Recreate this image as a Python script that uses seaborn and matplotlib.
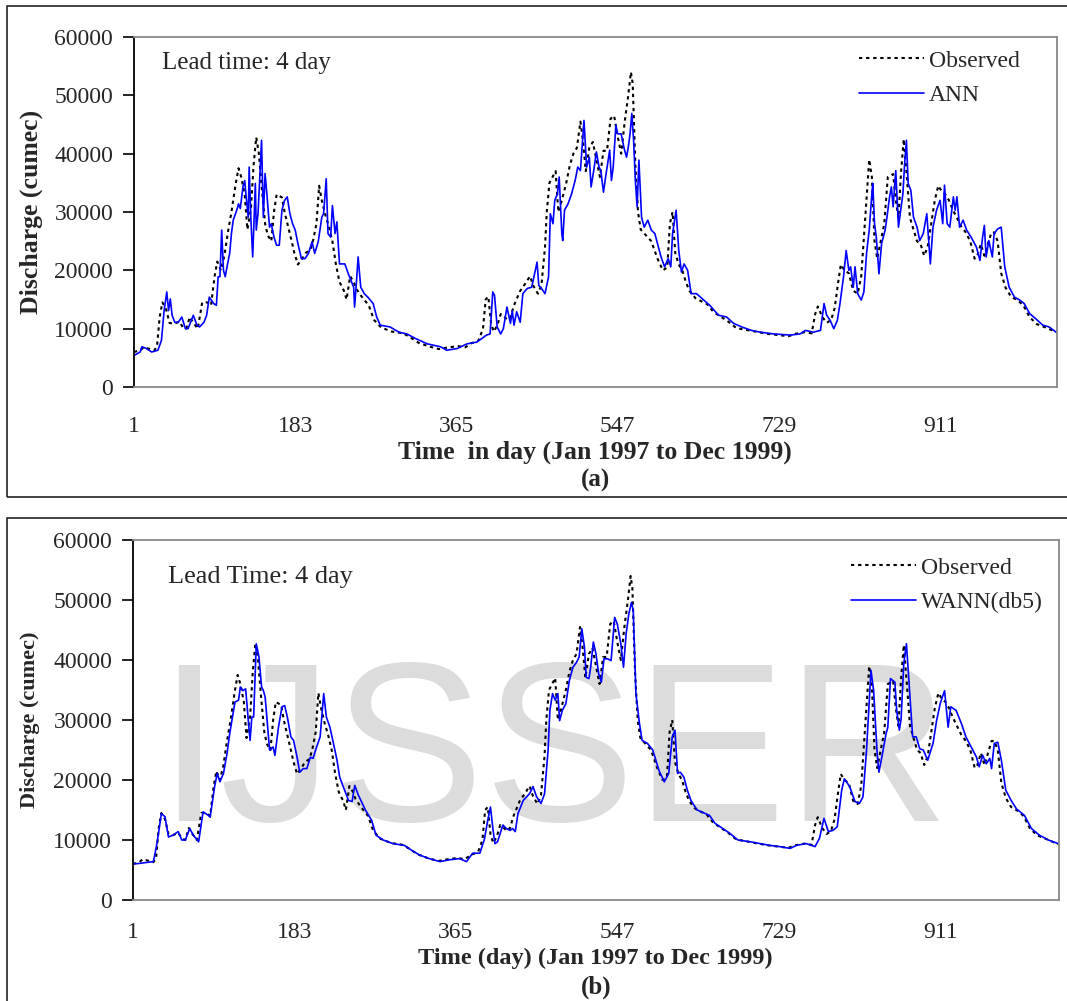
import numpy as np
import pandas as pd
import matplotlib
matplotlib.use("Agg")
import matplotlib.pyplot as plt
import seaborn as sns
from matplotlib.patches import Rectangle

sns.set_theme(style="white")
plt.rcParams["font.family"] = ["Liberation Serif", "DejaVu Serif"]

# ---------------- data ----------------
obs_days = [1, 8, 12, 24, 27, 30, 33, 37, 41, 46, 52, 56, 60, 64, 68, 73, 78, 84, 88, 92, 95, 99, 103, 107,
            111, 116, 119, 122, 126, 129, 133, 136, 139, 142, 145, 149, 152, 156, 159, 162, 168, 171, 175,
            179, 182, 186, 190, 195, 200, 203, 207, 210, 213, 217, 221, 225, 229, 233, 238, 241, 245, 249,
            252, 258, 266, 272, 280, 292, 305, 313, 322, 333, 345, 356, 367, 375, 382, 390, 395, 398, 401,
            404, 407, 411, 415, 419, 423, 426, 430, 437, 444, 448, 452, 457, 461, 465, 467, 470, 477, 480,
            484, 489, 493, 497, 501, 505, 508, 511, 515, 519, 523, 527, 531, 535, 539, 543, 547, 551, 555,
            559, 562, 564, 567, 570, 573, 579, 585, 592, 598, 603, 606, 609, 612, 616, 620, 624, 628, 635,
            648, 655, 664, 672, 681, 695, 706, 717, 728, 740, 747, 758, 766, 770, 773, 778, 783, 788, 792,
            796, 799, 803, 808, 813, 818, 822, 827, 831, 834, 837, 840, 844, 848, 852, 858, 861, 864, 867,
            870, 874, 877, 881, 885, 889, 893, 897, 901, 905, 909, 913, 917, 921, 925, 930, 935, 940, 945,
            950, 953, 957, 961, 965, 969, 972, 976, 980, 985, 991, 999, 1005, 1012, 1020, 1030, 1044]
obs_vals = [6000, 6300, 6800, 6300, 7000, 12000, 14500, 13500, 11000, 10800, 11200, 10300, 10000, 12000,
            11000, 10000, 14500, 14500, 14000, 19000, 21500, 20000, 22500, 26500, 30000, 35000, 37500,
            36000, 33000, 27000, 30500, 38000, 42800, 40000, 34500, 28000, 26000, 25000, 30000, 33000,
            32500, 30000, 27500, 25000, 23000, 21000, 21800, 23000, 23500, 25000, 28000, 34500, 32000,
            29500, 27500, 25000, 21000, 18000, 16500, 15000, 19000, 18000, 16800, 15500, 14000, 11500,
            10200, 9500, 9200, 8500, 7600, 7000, 6500, 6800, 7000, 6800, 7500, 8000, 10000, 15000, 15500,
            11000, 9500, 10500, 12500, 12000, 11500, 12000, 14000, 16500, 18000, 19000, 17300, 16000,
            17500, 24000, 30000, 35000, 37000, 30000, 32000, 35000, 38000, 40000, 41000, 45500, 42000,
            37000, 41000, 42000, 39000, 36000, 40500, 40500, 46000, 46500, 43000, 40000, 45500, 50000,
            54000, 52000, 38000, 30000, 27000, 26000, 25000, 22000, 20000, 20500, 28000, 30000, 23000,
            21000, 20000, 18000, 16500, 15200, 14200, 12900, 12000, 11200, 10100, 9700, 9400, 9100, 8900,
            8700, 9100, 9400, 9200, 12500, 13800, 12000, 11000, 11500, 13500, 18000, 21000, 20000, 19500,
            16500, 16000, 19000, 30000, 39000, 36000, 25000, 22000, 25000, 28000, 36000, 36500, 32000,
            29000, 37000, 42500, 35000, 29000, 27000, 25000, 24500, 22500, 24000, 28000, 32000, 34500,
            33500, 33000, 32000, 30500, 29000, 27500, 26500, 25000, 22000, 22500, 24500, 22500, 24500,
            26500, 26500, 25000, 19500, 17000, 15500, 14800, 14000, 12000, 10800, 10200, 9300]

ann_days = [1, 8, 10, 15, 21, 28, 32, 35, 38, 40, 42, 44, 47, 51, 55, 59, 62, 68, 72, 75, 80, 83, 86, 91,
            94, 96, 98, 100, 102, 104, 106, 109, 111, 113, 117, 119, 121, 124, 126, 128, 130, 131, 133,
            135, 138, 139, 141, 144, 145, 147, 149, 151, 154, 156, 159, 162, 165, 168, 170, 171, 174, 177,
            180, 183, 186, 190, 194, 198, 202, 205, 209, 213, 215, 218, 220, 223, 225, 228, 230, 233, 239,
            243, 249, 250, 252, 254, 257, 261, 265, 271, 275, 279, 290, 300, 309, 319, 332, 347, 354, 366,
            377, 388, 399, 403, 406, 408, 411, 415, 418, 422, 426, 428, 430, 433, 437, 440, 445, 450, 456,
            458, 461, 465, 469, 471, 474, 476, 479, 481, 484, 485, 487, 491, 495, 499, 502, 505, 509, 512,
            515, 517, 520, 523, 526, 528, 531, 534, 538, 540, 542, 545, 547, 551, 554, 557, 559, 561, 563,
            565, 567, 569, 571, 574, 577, 581, 585, 589, 592, 596, 600, 604, 607, 609, 613, 616, 619, 622,
            626, 630, 636, 651, 661, 670, 678, 687, 698, 708, 723, 742, 753, 759, 768, 776, 780, 783, 787,
            791, 795, 798, 802, 805, 808, 810, 813, 815, 818, 822, 825, 828, 831, 834, 835, 837, 839, 842,
            845, 849, 851, 854, 856, 858, 861, 864, 866, 869, 871, 873, 875, 878, 881, 885, 888, 892, 896,
            900, 903, 907, 911, 914, 916, 919, 922, 926, 928, 930, 933, 937, 941, 946, 952, 956, 959, 961,
            963, 966, 970, 972, 976, 980, 984, 989, 995, 1001, 1006, 1012, 1019, 1027, 1034, 1042]
ann_vals = [5400, 6000, 6900, 6600, 6000, 6300, 8000, 13100, 16300, 13100, 15100, 12300, 11100, 11100,
            12000, 10000, 10000, 12300, 10600, 10300, 11100, 12300, 15400, 14300, 14000, 18900, 18900,
            26900, 20000, 18900, 20600, 22900, 26300, 28600, 30300, 31400, 30600, 34300, 35400, 32000,
            29100, 37700, 28600, 22300, 34900, 26900, 29700, 39400, 42300, 29100, 36600, 33100, 27400,
            28000, 25700, 24300, 24300, 30300, 31400, 32000, 32600, 29700, 28000, 26900, 24600, 22000,
            22000, 22900, 24900, 22900, 24900, 29100, 29700, 35700, 26300, 25700, 31100, 26300, 28300,
            21100, 21100, 19400, 17100, 13700, 17700, 22300, 17100, 16000, 15400, 14300, 12000, 10600,
            10300, 9400, 9100, 8300, 7400, 6900, 6300, 6600, 7400, 7700, 8900, 9100, 16300, 15700, 10300,
            9100, 10000, 13700, 10900, 13100, 10600, 12900, 11100, 16000, 16900, 17100, 21400, 17400,
            16900, 16000, 18900, 29700, 28000, 32000, 33100, 36000, 26300, 25100, 30300, 31400, 33100,
            35400, 37700, 37100, 45700, 37700, 39400, 34300, 37100, 40300, 37700, 37100, 33400, 36600,
            40600, 35400, 37700, 44900, 43400, 43400, 41100, 39400, 41100, 43400, 46900, 42300, 35400,
            30900, 38900, 29100, 27400, 28600, 26900, 26300, 24600, 22300, 20600, 22000, 20600, 26300,
            30300, 23400, 19700, 21100, 20000, 16000, 16000, 14000, 12300, 12000, 10900, 10300, 9700,
            9400, 9100, 8900, 9100, 9700, 9400, 9700, 14300, 12300, 11400, 10000, 11400, 14300, 18900,
            23400, 20000, 20600, 17100, 20600, 16000, 14900, 16300, 22900, 26900, 33100, 34900, 28000,
            25700, 19400, 24600, 26900, 29100, 32600, 34300, 30900, 37100, 27400, 29700, 33100, 38300,
            42300, 34900, 33700, 29100, 27400, 25100, 26300, 29700, 21100, 27400, 30300, 32000, 28000,
            34600, 28000, 27400, 32600, 30300, 32600, 27400, 28600, 26900, 25700, 24000, 21700, 25700,
            27700, 22300, 25100, 22300, 26300, 27100, 27400, 20600, 17100, 15400, 14900, 14300, 12600,
            11700, 10600, 10300, 9400]

wann_days = [1, 8, 24, 28, 33, 37, 41, 46, 52, 56, 60, 65, 69, 75, 80, 86, 88, 93, 96, 99, 103, 107, 110,
             116, 120, 122, 125, 128, 131, 133, 135, 137, 140, 143, 146, 148, 150, 154, 155, 159, 161, 165,
             169, 172, 175, 179, 182, 186, 189, 193, 197, 201, 204, 208, 212, 216, 219, 223, 227, 231, 234,
             238, 244, 248, 251, 255, 263, 270, 275, 283, 294, 307, 315, 324, 335, 347, 358, 369, 377, 384,
             392, 397, 401, 404, 407, 409, 412, 418, 422, 426, 429, 432, 435, 441, 448, 452, 456, 461, 465,
             469, 471, 474, 477, 480, 482, 485, 489, 493, 497, 501, 504, 507, 510, 512, 515, 517, 520, 523,
             526, 529, 532, 536, 540, 544, 547, 551, 554, 557, 560, 563, 565, 568, 572, 575, 581, 587, 594,
             600, 605, 609, 612, 615, 618, 622, 626, 630, 637, 651, 657, 666, 674, 683, 697, 708, 719, 730,
             742, 749, 760, 770, 775, 780, 785, 790, 795, 800, 803, 809, 815, 820, 824, 828, 833, 836, 840,
             842, 846, 850, 852, 855, 860, 862, 865, 867, 870, 873, 877, 880, 884, 888, 892, 897, 903, 907,
             911, 916, 920, 923, 929, 935, 940, 946, 952, 955, 959, 963, 967, 969, 972, 976, 980, 985, 991,
             997, 1006, 1014, 1023, 1033, 1044]
wann_vals = [6000, 6100, 6400, 9400, 14400, 13900, 10500, 10800, 11400, 10000, 10000, 11900, 10800, 9700,
             14700, 14100, 13800, 18900, 21100, 19700, 21100, 24400, 27700, 33000, 33300, 35500, 34900,
             35200, 29900, 26600, 30500, 30500, 42700, 40500, 35500, 34900, 33800, 26600, 25000, 25500,
             24100, 28800, 32200, 32400, 30500, 27200, 26600, 23800, 21300, 21900, 21900, 23800, 23600,
             25500, 27200, 34400, 30500, 28800, 26100, 23300, 20500, 18900, 16600, 16400, 19100, 17500,
             15000, 13300, 10800, 10000, 9400, 9100, 8300, 7500, 6900, 6400, 6700, 6900, 6400, 7800, 7800,
             10000, 13300, 15500, 11600, 9400, 9700, 12500, 11900, 11600, 11900, 11400, 14400, 16600,
             17700, 18900, 17200, 16100, 17700, 25000, 31600, 34400, 33300, 34400, 29900, 31600, 32700,
             36600, 38800, 39600, 40500, 45200, 42100, 37100, 36900, 38800, 43000, 41000, 37700, 36300,
             40200, 40200, 39900, 47100, 46000, 42700, 38800, 44400, 47700, 49600, 48200, 34400, 29400,
             26600, 26100, 25000, 21600, 19700, 21100, 27200, 28300, 21100, 21300, 20500, 18300, 16600,
             15000, 14100, 12800, 11900, 11100, 10000, 9700, 9400, 9100, 8900, 8600, 9100, 9400, 8900,
             10300, 13600, 11400, 11600, 12200, 18300, 20200, 18900, 16400, 16100, 17200, 25000, 38300,
             34900, 24400, 21300, 24400, 27700, 28800, 36900, 36300, 31600, 28300, 30200, 39400, 42700,
             33800, 27200, 27200, 25200, 25000, 23300, 26100, 29900, 32700, 34900, 28800, 32200, 31600,
             29400, 27200, 25500, 23800, 22200, 24100, 22700, 23600, 21900, 26100, 26300, 23300, 18300,
             16600, 15200, 14100, 11900, 10800, 10000, 9400]

x_ticks = [1, 183, 365, 547, 729, 911]
y_ticks = [0, 10000, 20000, 30000, 40000, 50000, 60000]

obs_df = pd.DataFrame({"day": obs_days, "q": obs_vals})
ann_df = pd.DataFrame({"day": ann_days, "q": ann_vals})
wann_df = pd.DataFrame({"day": wann_days, "q": wann_vals})

# ---------------- figure ----------------
W, H = 1067, 1001
fig = plt.figure(figsize=(W / 100, H / 100), dpi=100)


def fx(px):
    return px / W


def fy(py):
    return 1 - py / H


# outer panel frames
fig.patches.append(Rectangle((fx(7), fy(497)), 1.2, fy(6) - fy(497), transform=fig.transFigure,
                             fill=False, edgecolor="#222222", linewidth=1.2, zorder=0))
fig.patches.append(Rectangle((fx(7), fy(1010)), 1.2, fy(518) - fy(1010), transform=fig.transFigure,
                             fill=False, edgecolor="#222222", linewidth=1.2, zorder=0))

ax_a = fig.add_axes([fx(134), fy(387), fx(1057) - fx(134), fy(37) - fy(387)])
ax_b = fig.add_axes([fx(133), fy(900), fx(1059) - fx(133), fy(540) - fy(900)])

obs_style = dict(color="black", linewidth=1.5, linestyle=(0, (1.6, 1.8)))
pred_style = dict(color="#0000FF", linewidth=1.2)

sns.lineplot(data=obs_df, x="day", y="q", ax=ax_a, label="Observed", **obs_style)
sns.lineplot(data=ann_df, x="day", y="q", ax=ax_a, label="ANN", **pred_style)

ax_b.text(0.4535, 0.383, "IJSSER", transform=ax_b.transAxes, ha="center", va="center",
          fontsize=163, color="#dcdcdc", family="Liberation Sans", zorder=0.5)
sns.lineplot(data=obs_df, x="day", y="q", ax=ax_b, label="Observed", **obs_style)
sns.lineplot(data=wann_df, x="day", y="q", ax=ax_b, label="WANN(db5)", **pred_style)


def style_axis(ax, xmax, tick_fs, ylab_fs, xlab_fs, xlab, xpad):
    ax.set_xlim(1, xmax)
    ax.set_ylim(0, 60000)
    ax.set_xticks(x_ticks)
    ax.set_yticks(y_ticks)
    ax.set_xticklabels([str(t) for t in x_ticks])
    ax.set_yticklabels([str(t) for t in y_ticks])
    ax.tick_params(axis="y", direction="out", length=8, width=1.2, color="black", pad=7,
                   labelsize=tick_fs, left=True)
    ax.tick_params(axis="x", length=0, pad=xpad, labelsize=tick_fs, bottom=True)
    for s in ["top", "right", "bottom"]:
        ax.spines[s].set_color("#888888")
        ax.spines[s].set_linewidth(1.3)
        ax.spines[s].set_visible(True)
    ax.spines["left"].set_color("black")
    ax.spines["left"].set_linewidth(1.3)
    ax.spines["left"].set_visible(True)
    ax.set_ylabel("Discharge (cumec)", fontsize=ylab_fs, fontweight="bold")
    ax.set_xlabel(xlab, fontsize=xlab_fs, fontweight="bold", labelpad=0)
    ax.grid(False)
    ax.set_facecolor("none")


style_axis(ax_a, 1043, 17, 18.5, 18.5, "Time  in day (Jan 1997 to Dec 1999)", 21)
style_axis(ax_b, 1045, 17, 16, 17.5, "Time (day) (Jan 1997 to Dec 1999)", 16)
ax_a.yaxis.set_label_coords(-0.0986, 0.5)
ax_b.yaxis.set_label_coords(-0.1004, 0.5)
ax_a.xaxis.set_label_coords(0.499, -0.154)
ax_b.xaxis.set_label_coords(0.499, -0.133)

fig.text(fx(162), fy(63), "Lead time: 4 day", fontsize=18, ha="left", va="center")
fig.text(fx(168), fy(577), "Lead Time: 4 day", fontsize=18.9, ha="left", va="center")

fig.text(fx(595), fy(480), "(a)", ha="center", va="center", fontsize=18, fontweight="bold")
fig.text(fx(596), fy(987), "(b)", ha="center", va="center", fontsize=18, fontweight="bold")

for ax, bb in [(ax_a, (1020, 50)), (ax_b, (1043, 557))]:
    pos = ax.get_position()
    x0 = (fx(bb[0]) - pos.x0) / pos.width
    y0 = (fy(bb[1]) - pos.y0) / pos.height
    ax.legend(loc="upper right", bbox_to_anchor=(x0, y0), frameon=False, fontsize=17,
              handlelength=2.75, handletextpad=0.2, labelspacing=0.54, borderaxespad=0,
              borderpad=0)

fig.savefig("out.png", dpi=100)
